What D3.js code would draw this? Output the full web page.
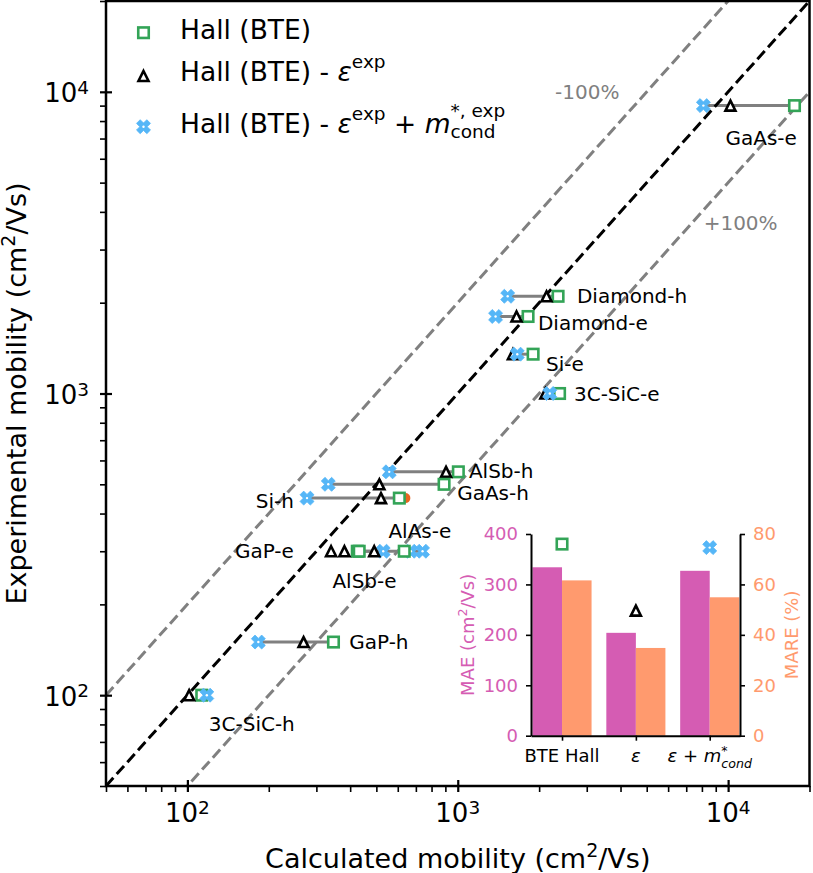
<!DOCTYPE html>
<html><head><meta charset="utf-8">
<script src="https://cdn.jsdelivr.net/npm/d3@7"></script>
<style>
html,body{margin:0;padding:0;background:#fff;}
svg{display:block;font-family:"DejaVu Sans",sans-serif;}
text{white-space:pre;}
</style>
</head><body>
<svg id="c" width="813" height="873"></svg>
<script>
// ---------------- data ----------------
const materials   = ["GaAs-e","Diamond-h","Diamond-e","Si-e","3C-SiC-e","AlSb-h","GaAs-h","Si-h","GaP-e","AlAs-e","AlSb-e","GaP-h","3C-SiC-h"];
const expMobility = [9000, 2100, 1800, 1350, 1000, 550, 500, 450, 300, 300, 300, 150, 100];
const hallBTE     = [17600, 2350, 1820, 1900, 2380, 1005, 890, 608, 425, 432, 634, 347, 113];
const hallEps     = [10200, 2130, 1650, 1600, 2110, 905, 513, 520, 340, 381, 491, 269, 101.5];
const hallEpsMass = [8100, 1530, 1380, 1660, 2190, 558, 332, 277, 530, 671, 741, 183, 118];
const labelX      = [9780, 2760, 1980, 2120, 2690, 1100, 995, 179, 150, 554, 344, 397, 120];
const labelY      = [7050, 2110, 1710, 1257, 997, 556, 467, 442, 302, 350, 240, 150, 80.2];
const extraCalc   = [640];
const extraExp    = [450];
const refFactors  = [1, 2, 0.5];
const refLabels   = ["-100%", "+100%"];
const refLabelX   = [2290, 8120];
const refLabelY   = [10000, 3690];
const majorTicks  = [100, 1000, 10000];
const majorExp    = ["2", "3", "4"];
const minorTicks  = [50,60,70,80,90,200,300,400,500,600,700,800,900,2000,3000,4000,5000,6000,7000,8000,9000,20000];
const insetCategories = ["BTE Hall", "ε", "ε + m*_cond"];
const maeValues   = [334, 204, 327];
const mareValues  = [61.6, 34.8, 54.9];
const insetMarkerValues = [380, 248, 373];
const maeTicks  = [0, 100, 200, 300, 400];
const mareTicks = [0, 20, 40, 60, 80];

// ---------------- styles ----------------
const GREEN = "#33a457", BLUE = "#55b6f7", PINK = "#d55cb3", ORANGE = "#ff9a6e", GREY = "#808080";
const svg = d3.select("#c");
const L = 106, R = 809.5, T = 1, B = 786;
const x = d3.scaleLog().domain([50, 20000]).range([L, R]);
const y = d3.scaleLog().domain([50, 20000]).range([B, T]);

function rich(parent, x0, y0, segs, anchor, fill) {
  const t = parent.append("text").attr("fill", fill || "#000").attr("xml:space", "preserve");
  let cx = 0, prevStart = 0;
  segs.forEach(s => {
    const ts = t.append("tspan").text(s.t).attr("font-size", s.size).attr("y", y0 - (s.shift || 0));
    if (s.italic) ts.attr("font-style", "italic");
    const sx = s.stack ? prevStart : cx;
    ts.attr("x", x0 + sx);
    const w = ts.node().getComputedTextLength();
    if (s.stack) cx = Math.max(cx, sx + w); else { prevStart = sx; cx = sx + w; }
  });
  if (anchor === "end") t.attr("transform", `translate(${-cx},0)`);
  else if (anchor === "middle") t.attr("transform", `translate(${-cx / 2},0)`);
  return t;
}

function square(g, cx, cy, s) {
  g.append("rect").attr("x", cx - s / 2).attr("y", cy - s / 2).attr("width", s).attr("height", s)
    .attr("fill", "#fff").attr("stroke", GREEN).attr("stroke-width", 2.6);
}
function triangle(g, cx, cy, s) {
  const h = s;
  g.append("path").attr("d", `M${cx},${cy - h / 2}L${cx + s / 2},${cy + h / 2}L${cx - s / 2},${cy + h / 2}Z`)
    .attr("fill", "#fff").attr("stroke", "#000").attr("stroke-width", 2.6).attr("stroke-linejoin", "miter");
}
function xMarker(g, cx, cy, r, q) {
  const pts = [[q, q], [r, q], [r, -q], [q, -q], [q, -r], [-q, -r], [-q, -q], [-r, -q], [-r, q], [-q, q], [-q, r], [q, r]];
  const c = Math.SQRT1_2;
  const rot = pts.map(([a, b]) => [cx + (a - b) * c, cy + (a + b) * c]);
  g.append("path").attr("d", "M" + rot.map(p => p.join(",")).join("L") + "Z").attr("fill", BLUE)
    .attr("stroke", BLUE).attr("stroke-width", 0.8).attr("stroke-linejoin", "round");
  g.append("circle").attr("cx", cx).attr("cy", cy).attr("r", 1.2).attr("fill", "#fff");
}

// ---------------- main plot ----------------
svg.append("clipPath").attr("id", "pc").append("rect").attr("x", L).attr("y", T).attr("width", R - L).attr("height", B - T);
const plot = svg.append("g").attr("clip-path", "url(#pc)");

materials.forEach((m, i) => {
  const xs = [hallBTE[i], hallEpsMass[i]];
  plot.append("line").attr("x1", x(d3.min(xs))).attr("x2", x(d3.max(xs)))
    .attr("y1", y(expMobility[i])).attr("y2", y(expMobility[i]))
    .attr("stroke", GREY).attr("stroke-width", 3);
});

refFactors.forEach(f => {
  plot.append("line")
    .attr("x1", x(50)).attr("y1", y(50 * f)).attr("x2", x(20000)).attr("y2", y(20000 * f))
    .attr("stroke", f === 1 ? "#000" : GREY).attr("stroke-width", 3)
    .attr("stroke-dasharray", "11,5");
});

const marks = svg.append("g");
extraCalc.forEach((v, i) => {
  marks.append("circle").attr("cx", x(v)).attr("cy", y(extraExp[i])).attr("r", 5).attr("fill", "#e8651f");
});
materials.forEach((m, i) => {
  square(marks, x(hallBTE[i]), y(expMobility[i]), 10.5);
  triangle(marks, x(hallEps[i]), y(expMobility[i]), 10);
  xMarker(marks, x(hallEpsMass[i]), y(expMobility[i]), 7.3, 2.6);
});

materials.forEach((m, i) => {
  svg.append("text").attr("x", x(labelX[i])).attr("y", y(labelY[i])).attr("dy", "0.36em")
    .attr("font-size", 20).attr("fill", "#000").text(m);
});
refLabels.forEach((t, i) => {
  svg.append("text").attr("x", x(refLabelX[i])).attr("y", y(refLabelY[i])).attr("dy", "0.36em")
    .attr("font-size", 20).attr("fill", GREY).text(t);
});

svg.append("rect").attr("x", L).attr("y", T).attr("width", R - L).attr("height", B - T)
  .attr("fill", "none").attr("stroke", "#000").attr("stroke-width", 2.5);

const xMinor = svg.append("g").attr("transform", `translate(0,${B})`)
  .call(d3.axisBottom(x).tickValues(minorTicks).tickSize(6).tickFormat(""));
const xMajor = svg.append("g").attr("transform", `translate(0,${B})`)
  .call(d3.axisBottom(x).tickValues(majorTicks).tickSize(6).tickFormat(""));
const yMinor = svg.append("g").attr("transform", `translate(${L},0)`)
  .call(d3.axisLeft(y).tickValues(minorTicks).tickSize(6).tickFormat(""));
const yMajor = svg.append("g").attr("transform", `translate(${L},0)`)
  .call(d3.axisLeft(y).tickValues(majorTicks).tickSize(6).tickFormat(""));
[xMinor, xMajor, yMinor, yMajor].forEach(a => { a.select(".domain").remove(); });
[xMinor, yMinor].forEach(a => a.selectAll(".tick line").attr("stroke", "#000").attr("stroke-width", 1.6));
xMajor.selectAll(".tick line").attr("y1", -6).attr("stroke", "#000").attr("stroke-width", 2.2);
yMajor.selectAll(".tick line").attr("x1", 6).attr("stroke", "#000").attr("stroke-width", 2.2);

majorTicks.forEach((v, i) => {
  rich(svg, x(v), 822, [{ t: "10", size: 26 }, { t: majorExp[i], size: 18.5, shift: 8.5 }], "middle");
  rich(svg, 89, y(v) + 10.5, [{ t: "10", size: 26 }, { t: majorExp[i], size: 18.5, shift: 8.5 }], "end");
});

rich(svg, (L + R) / 2, 868, [{ t: "Calculated mobility (cm", size: 27 }, { t: "2", size: 19, shift: 11 }, { t: "/Vs)", size: 27 }], "middle");
const yt = svg.append("g").attr("transform", `translate(26,${(T + B) / 2}) rotate(-90)`);
rich(yt, 0, 0, [{ t: "Experimental mobility (cm", size: 27 }, { t: "2", size: 19, shift: 11 }, { t: "/Vs)", size: 27 }], "middle");

const lg = svg.append("g");
square(lg, 143.5, 32.7, 10.5);
rich(lg, 180, 39.3, [{ t: "Hall (BTE)", size: 26.5 }]);
triangle(lg, 143.5, 76, 10);
rich(lg, 180, 81, [{ t: "Hall (BTE) - ", size: 26.5 }, { t: "ε", size: 26.5, italic: true }, { t: "exp", size: 18.5, shift: 12.7 }]);
xMarker(lg, 143.5, 126.7, 7.3, 2.6);
rich(lg, 180, 132.7, [{ t: "Hall (BTE) - ", size: 26.5 }, { t: "ε", size: 26.5, italic: true }, { t: "exp", size: 18.5, shift: 12.7 },
  { t: " + ", size: 26.5 }, { t: "m", size: 26.5, italic: true }, { t: "*, exp", size: 18.5, shift: 16 }, { t: "cond", size: 18.5, shift: -5.6, stack: true }]);

// ---------------- inset ----------------
const iL = 531, iR = 740, iT = 534, iB = 735.7;
const xi = d3.scaleLinear().domain([-0.42, 2.41]).range([iL, iR]);
const yiL = d3.scaleLinear().domain([0, 400]).range([iB, iT]);
const yiR = d3.scaleLinear().domain([0, 80]).range([iB, iT]);
const inset = svg.append("g");
maeValues.forEach((v, i) => {
  inset.append("rect").attr("x", xi(i - 0.4)).attr("width", xi(i) - xi(i - 0.4))
    .attr("y", yiL(v)).attr("height", yiL(0) - yiL(v)).attr("fill", PINK);
});
mareValues.forEach((v, i) => {
  inset.append("rect").attr("x", xi(i)).attr("width", xi(i + 0.4) - xi(i))
    .attr("y", yiR(v)).attr("height", yiR(0) - yiR(v)).attr("fill", ORANGE);
});
square(inset, xi(0), yiL(insetMarkerValues[0]), 10.5);
triangle(inset, xi(1), yiL(insetMarkerValues[1]), 10);
xMarker(inset, xi(2), yiL(insetMarkerValues[2]), 7.3, 2.6);

const aL = inset.append("g").attr("transform", `translate(${iL},0)`)
  .call(d3.axisLeft(yiL).tickValues(maeTicks).tickSize(5).tickSizeOuter(0).tickPadding(8));
const aR = inset.append("g").attr("transform", `translate(${iR},0)`)
  .call(d3.axisRight(yiR).tickValues(mareTicks).tickSize(5).tickSizeOuter(0).tickPadding(8));
const aB = inset.append("g").attr("transform", `translate(0,${iB})`)
  .call(d3.axisBottom(xi).tickValues([0, 1, 2]).tickSize(5).tickSizeOuter(0).tickFormat(""));
[aL, aR, aB].forEach(a => {
  a.select(".domain").attr("stroke", "#000").attr("stroke-width", 2);
  a.selectAll(".tick line").attr("stroke", "#000").attr("stroke-width", 1.6);
});
aL.selectAll("text").attr("font-size", 18).attr("fill", PINK).attr("font-family", "DejaVu Sans");
aR.selectAll("text").attr("font-size", 18).attr("fill", ORANGE).attr("font-family", "DejaVu Sans");

rich(inset, xi(0), 762, [{ t: insetCategories[0], size: 18 }], "middle");
rich(inset, xi(1), 762, [{ t: "ε", size: 18, italic: true }], "middle");
rich(inset, xi(2), 762, [{ t: "ε", size: 18, italic: true }, { t: " + ", size: 18 }, { t: "m", size: 18, italic: true },
  { t: "*", size: 12.6, shift: 7 }, { t: "cond", size: 12.6, shift: -5.5, italic: true, stack: true }], "middle");

const maeT = inset.append("g").attr("transform", `translate(473.5,${(iT + iB) / 2}) rotate(-90)`);
rich(maeT, 0, 0, [{ t: "MAE (cm", size: 18 }, { t: "2", size: 12.6, shift: 7 }, { t: "/Vs)", size: 18 }], "middle", PINK);
const mareT = inset.append("g").attr("transform", `translate(798,${(iT + iB) / 2}) rotate(-90)`);
rich(mareT, 0, 0, [{ t: "MARE (%)", size: 18 }], "middle", ORANGE);
</script>
</body></html>
